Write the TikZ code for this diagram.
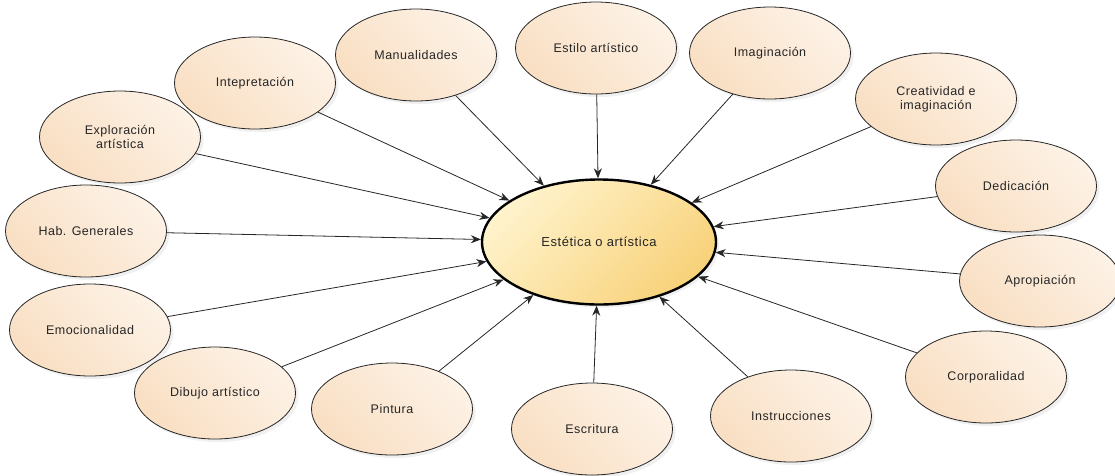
\documentclass[tikz,border=0pt]{standalone}
\usepackage{fontspec}
\setmainfont{Liberation Sans}[LetterSpace=4]
\usetikzlibrary{shapes.geometric,arrows.meta,shadows}
\definecolor{outA}{HTML}{FDF2E6}
\definecolor{outB}{HTML}{F9DFC3}
\definecolor{cenA}{HTML}{FFF3CC}
\definecolor{cenB}{HTML}{F8D27A}
\definecolor{txt}{HTML}{262626}
\tikzset{
  outer/.style={ellipse, draw=black!85, line width=0.8pt, minimum width=161pt, minimum height=92pt,
    top color=outA, bottom color=outB, shading angle=-45, text=txt, align=center,
    font=\fontsize{12.5}{14}\selectfont, inner sep=0pt,
    drop shadow={opacity=0.12, shadow xshift=3pt, shadow yshift=-3pt}},
  central/.style={ellipse, draw=black, line width=2.4pt, minimum width=234pt, minimum height=125pt,
    top color=cenA, bottom color=cenB, shading angle=45, text=txt,
    font=\fontsize{13}{14}\selectfont,
    drop shadow={opacity=0.12, shadow xshift=3pt, shadow yshift=-3pt}},
  conn/.style={draw=black!85, line width=0.8pt, -{Stealth[length=10pt,width=8pt]}}
}
\begin{document}
\begin{tikzpicture}[x=1pt,y=-1pt]
\useasboundingbox (0,0) rectangle (1115,475);
\node[central] (c) at (599,242) {Estética o artística};
\node[outer] (man) at (416,55) {Manualidades};
\node[outer] (est) at (596,48) {Estilo artístico};
\node[outer] (ima) at (770,53) {Imaginación};
\node[outer] (int) at (255,83) {Intepretación};
\node[outer] (exp) at (120,137) {Exploración\\artística};
\node[outer] (hab) at (86,231) {Hab. Generales};
\node[outer] (emo) at (90,330) {Emocionalidad};
\node[outer] (dib) at (215,393) {Dibujo artístico};
\node[outer] (pin) at (392,409) {Pintura};
\node[outer] (esc) at (592,429) {Escritura};
\node[outer] (ins) at (791,416) {Instrucciones};
\node[outer] (cor) at (986,377) {Corporalidad};
\node[outer] (apr) at (1040,281) {Apropiación};
\node[outer] (ded) at (1016,186) {Dedicación};
\node[outer] (cre) at (936,99) {Creatividad e\\imaginación};
\foreach \n in {man,est,ima,int,exp,hab,emo,dib,pin,esc,ins,cor,apr,ded,cre}
  \draw[conn] (\n) -- (c);
\end{tikzpicture}
\end{document}
